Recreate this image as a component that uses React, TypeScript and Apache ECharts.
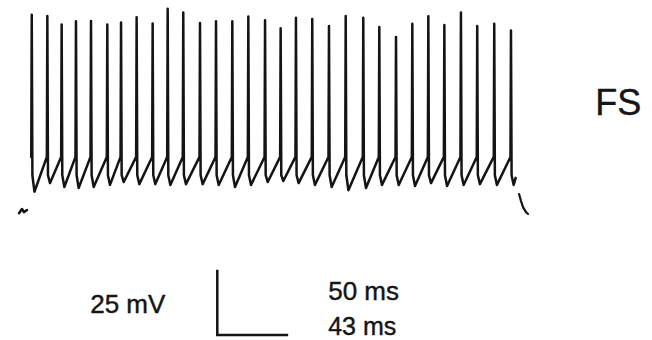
import React, { useEffect, useRef } from "react";
import * as echarts from "echarts";

// Spike times (ms from stimulus onset) and peak voltages (mV)
const spikeTimes = [
  2.4, 13.4, 23.5, 33.6, 44.2, 55.7, 65.4, 76.4, 87.7, 98.3, 109.3, 121.1, 132.4, 143.9, 155.2,
  167.0, 178.0, 188.8, 200.3, 212.1, 223.9, 236.3, 247.6, 259.4, 270.9, 282.2, 293.5, 305.2,
  316.7, 328.7, 340.5,
];
const spikePeaks = [
  -0.6, -1.1, -4.4, -3.1, -3.0, -4.4, -3.6, -1.6, -4.0, 1.7, 0.2, -3.8, -3.1, -3.1, -1.3,
  -2.7, -5.8, -1.8, -2.3, -4.9, -1.1, -1.8, -5.3, -9.1, -4.1, -1.2, -4.6, 0.2, -4.9, -4.1,
  -6.7,
];
// After-hyperpolarisation troughs following each spike (mV)
const troughs = [
  -68.3, -65.0, -66.5, -66.9, -66.5, -65.7, -64.6, -65.4, -65.4, -65.7, -65.4, -65.4, -65.7,
  -66.5, -65.7, -64.6, -64.2, -65.0, -65.7, -66.5, -67.7, -66.9, -65.7, -65.7, -66.1, -65.0,
  -66.1, -65.7, -65.4, -65.7, -65.7,
];
const THRESHOLD_MV = -55;
const DOWNSTROKE_MV = -62;
const END_MV = -63;

// Pre-stimulus resting trace fragment and post-stimulus tail
const restTimes = [-6.6, -4.5, -3.1, -0.95];
const restValues = [-76.5, -74.9, -76.1, -75.3];
const tailTimes = [346.2, 347.6, 349.0, 351.1, 352.5];
const tailValues = [-69.2, -71.9, -74.2, -76.1, -76.8];

// Scale bar
const SCALE_MV = 25;
const SCALE_MS = 50;
const scaleCorner = [133.3, -123.1];
const labelMv = "25 mV";
const labelMs1 = "50 ms";
const labelMs2 = "43 ms";
const cellLabel = "FS";

export default function App() {
  const ref = useRef<HTMLDivElement>(null);
  useEffect(() => {
    if (!ref.current) return;
    const chart = echarts.init(ref.current, null, { renderer: "svg" });

    const trace: number[][] = [];
    spikeTimes.forEach((t, i) => {
      trace.push([t - 0.35, THRESHOLD_MV]);
      trace.push([t, spikePeaks[i]]);
      trace.push([t + 0.45, DOWNSTROKE_MV]);
      trace.push([t + 1.9, troughs[i]]);
    });
    const lastT = spikeTimes[spikeTimes.length - 1];
    trace.push([lastT + 3.3, END_MV]);

    const rest = restTimes.map((t, i) => [t, restValues[i]]);
    const tail = tailTimes.map((t, i) => [t, tailValues[i]]);
    const [cx, cy] = scaleCorner;
    const scaleBar = [
      [cx, cy + SCALE_MV],
      [cx, cy],
      [cx + SCALE_MS, cy],
    ];

    const lineColor = "#141414";
    const mkLine = (data: number[][], width: number) => ({
      type: "line",
      data,
      showSymbol: false,
      symbol: "none",
      smooth: false,
      lineStyle: { color: lineColor, width, cap: "round", join: "round" },
      silent: true,
    });

    const textStyle = (text: string, size: number) => ({
      text,
      fill: "#151515",
      font: `${size}px "Liberation Sans", Arial, sans-serif`,
      textVerticalAlign: "middle",
      verticalAlign: "middle",
      stroke: "#151515",
      lineWidth: 0.4,
    });

    chart.setOption({
      animation: false,
      backgroundColor: "#ffffff",
      grid: { left: 0, right: 0, top: 0, bottom: 0 },
      xAxis: { type: "value", min: -20, max: 440, show: false },
      yAxis: { type: "value", min: -125, max: 5, show: false },
      series: [
        mkLine(trace, 2.5),
        mkLine(rest, 2.5),
        mkLine(tail, 2.2),
        { ...mkLine(scaleBar, 2.5), lineStyle: { color: lineColor, width: 2.5, cap: "butt", join: "miter" } },
      ],
      graphic: [
        { type: "text", left: 90, top: 291, style: textStyle(labelMv, 26) },
        { type: "text", left: 328, top: 278, style: textStyle(labelMs1, 26) },
        { type: "text", left: 328, top: 313, style: textStyle(labelMs2, 25) },
        { type: "text", left: 595, top: 84, style: textStyle(cellLabel, 36) },
      ],
    });
    return () => chart.dispose();
  }, []);
  return (
    <div
      ref={ref}
      style={{ position: "fixed", left: 0, top: 0, width: 652, height: 340, background: "#fff" }}
    />
  );
}
